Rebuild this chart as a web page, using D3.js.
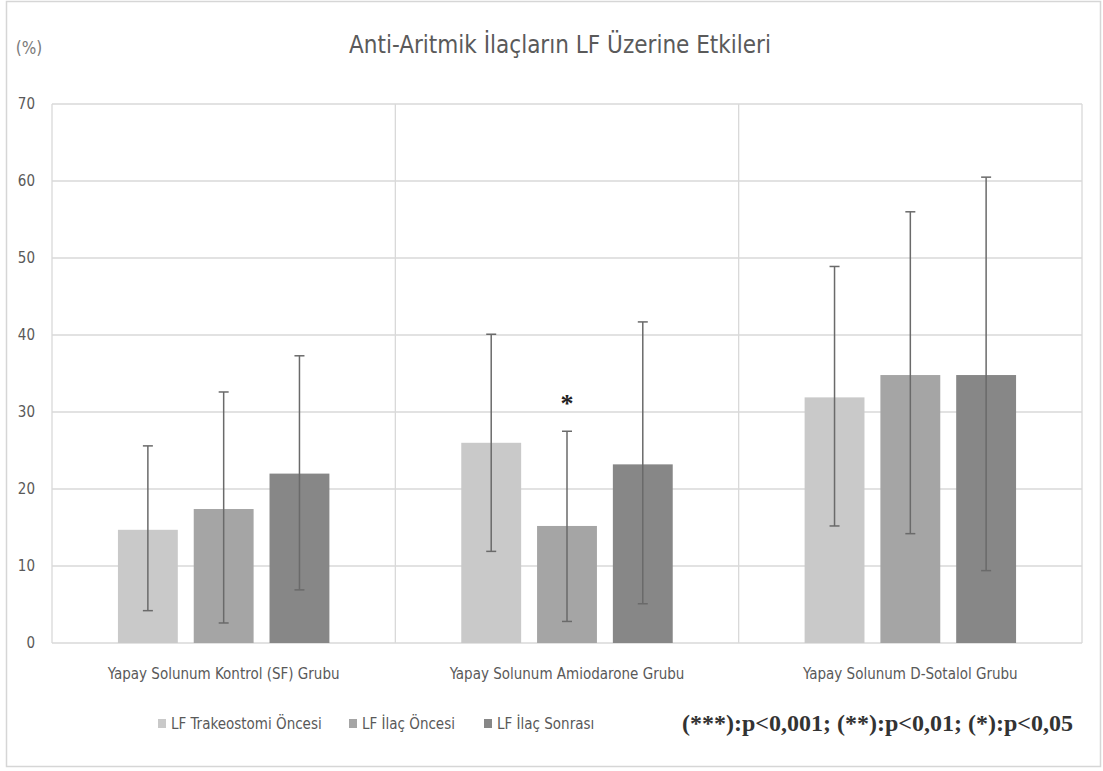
<!DOCTYPE html>
<html><head><meta charset="utf-8">
<script src="https://cdn.jsdelivr.net/npm/d3@7"></script>
<style>
html,body{margin:0;padding:0;background:#fff;}
svg{display:block;}
.cond{font-family:"Liberation Sans Narrow","DejaVu Sans Condensed","Roboto Condensed",sans-serif;}
</style></head>
<body>
<svg id="c" width="1103" height="771"></svg>
<script>
const title = "Anti-Aritmik İlaçların LF Üzerine Etkileri";
const unitLabel = "(%)";
const categories = ["Yapay Solunum Kontrol (SF) Grubu", "Yapay Solunum Amiodarone Grubu", "Yapay Solunum D-Sotalol Grubu"];
const seriesNames = ["LF Trakeostomi Öncesi", "LF İlaç Öncesi", "LF İlaç Sonrası"];
const seriesColors = ["#c9c9c9", "#a5a5a5", "#878787"];
// mean values per series (index = category)
const meanTrakeostomi = [14.7, 26.0, 31.9];
const meanIlacOncesi  = [17.4, 15.2, 34.8];
const meanIlacSonrasi = [22.0, 23.2, 34.8];
// error bar limits
const upperTrakeostomi = [25.6, 40.1, 48.9];
const lowerTrakeostomi = [4.2, 11.9, 15.2];
const upperIlacOncesi  = [32.6, 27.5, 56.0];
const lowerIlacOncesi  = [2.6, 2.8, 14.2];
const upperIlacSonrasi = [37.3, 41.7, 60.5];
const lowerIlacSonrasi = [6.9, 5.1, 9.4];
const yTicks = [0, 10, 20, 30, 40, 50, 60, 70];
const significance = [{cat: 1, series: 1, mark: "*"}];
const footnote = "(***):p<0,001; (**):p<0,01; (*):p<0,05";

const means = [meanTrakeostomi, meanIlacOncesi, meanIlacSonrasi];
const uppers = [upperTrakeostomi, upperIlacOncesi, upperIlacSonrasi];
const lowers = [lowerTrakeostomi, lowerIlacOncesi, lowerIlacSonrasi];
const data = [];
categories.forEach((c, ci) => seriesNames.forEach((s, si) => {
  data.push({cat: c, ser: s, si, v: means[si][ci], hi: uppers[si][ci], lo: lowers[si][ci]});
}));

const svg = d3.select("#c");
const pLeft = 52, pRight = 1082, pTop = 104, pBottom = 643;

// outer border
svg.append("rect").attr("x", 6.5).attr("y", 1.5).attr("width", 1094).attr("height", 765)
  .attr("fill", "#fff").attr("stroke", "#d6d6d6").attr("stroke-width", 1.5);

const x0 = d3.scaleBand().domain(categories).range([pLeft, pRight]).paddingInner(0).paddingOuter(0);
const x1 = d3.scaleBand().domain(seriesNames).range([0, x0.bandwidth()]).paddingInner(0.21).paddingOuter(0.87);
const y = d3.scaleLinear().domain([0, 70]).range([pBottom, pTop]);

// gridlines
svg.append("g").selectAll("line").data(yTicks).join("line")
  .attr("x1", pLeft).attr("x2", pRight).attr("y1", d => y(d)).attr("y2", d => y(d))
  .attr("stroke", "#d9d9d9").attr("stroke-width", 1.3);
// vertical category separators
const seps = [pLeft].concat(categories.map(c => x0(c) + x0.bandwidth()));
svg.append("g").selectAll("line").data(seps).join("line")
  .attr("x1", d => d).attr("x2", d => d).attr("y1", pTop).attr("y2", pBottom)
  .attr("stroke", "#d9d9d9").attr("stroke-width", 1.3);

// y axis labels
const yAxis = d3.axisLeft(y).tickValues(yTicks).tickSize(0).tickPadding(17);
const ya = svg.append("g").attr("transform", `translate(${pLeft},0)`).call(yAxis);
ya.select(".domain").remove();
ya.selectAll("text").attr("class", "cond").attr("font-size", 15).attr("fill", "#595959");

// bars
svg.append("g").selectAll("rect").data(data).join("rect")
  .attr("x", d => x0(d.cat) + x1(d.ser)).attr("width", x1.bandwidth())
  .attr("y", d => y(d.v)).attr("height", d => y(0) - y(d.v))
  .attr("fill", d => seriesColors[d.si]);

// error bars
const eb = svg.append("g").attr("stroke", "#6a6a6a").attr("stroke-width", 1.5);
data.forEach(d => {
  const cx = x0(d.cat) + x1(d.ser) + x1.bandwidth() / 2;
  eb.append("line").attr("x1", cx).attr("x2", cx).attr("y1", y(d.hi)).attr("y2", y(d.lo));
  eb.append("line").attr("x1", cx - 5).attr("x2", cx + 5).attr("y1", y(d.hi)).attr("y2", y(d.hi));
  eb.append("line").attr("x1", cx - 5).attr("x2", cx + 5).attr("y1", y(d.lo)).attr("y2", y(d.lo));
});

// significance marks
significance.forEach(s => {
  const d = data.find(e => e.cat === categories[s.cat] && e.si === s.series);
  const cx = x0(d.cat) + x1(d.ser) + x1.bandwidth() / 2;
  svg.append("text").attr("x", cx).attr("y", y(d.hi) - 19)
    .attr("text-anchor", "middle").attr("font-family", "Liberation Serif, serif")
    .attr("font-weight", "bold").attr("font-size", 26).attr("fill", "#222").text(s.mark);
});

// category labels
const xAxis = d3.axisBottom(x0).tickSize(0).tickPadding(25);
const xa = svg.append("g").attr("transform", `translate(0,${pBottom})`).call(xAxis);
xa.select(".domain").remove();
xa.selectAll("text").attr("class", "cond").attr("font-size", 15).attr("fill", "#595959");

// title
svg.append("text").attr("class", "cond").attr("x", 560).attr("y", 53).attr("text-anchor", "middle")
  .attr("font-size", 24).attr("fill", "#5a5a5a").text(title);
// unit label
svg.append("text").attr("class", "cond").attr("x", 29).attr("y", 54).attr("text-anchor", "middle")
  .attr("font-size", 17).attr("fill", "#7a7a7a").text(unitLabel);

// legend
const legX = [158, 349, 484];
const lg = svg.append("g");
seriesNames.forEach((s, i) => {
  lg.append("rect").attr("x", legX[i]).attr("y", 719).attr("width", 8).attr("height", 9).attr("fill", seriesColors[i]);
  lg.append("text").attr("class", "cond").attr("x", legX[i] + 13).attr("y", 729)
    .attr("font-size", 15).attr("fill", "#595959").text(s);
});

// footnote
svg.append("text").attr("x", 682).attr("y", 731)
  .attr("font-family", "Liberation Serif, 'Times New Roman', serif").attr("font-weight", "bold")
  .attr("font-size", 23).attr("textLength", 391).attr("lengthAdjust", "spacingAndGlyphs")
  .attr("fill", "#333").text(footnote);
</script>
</body></html>
